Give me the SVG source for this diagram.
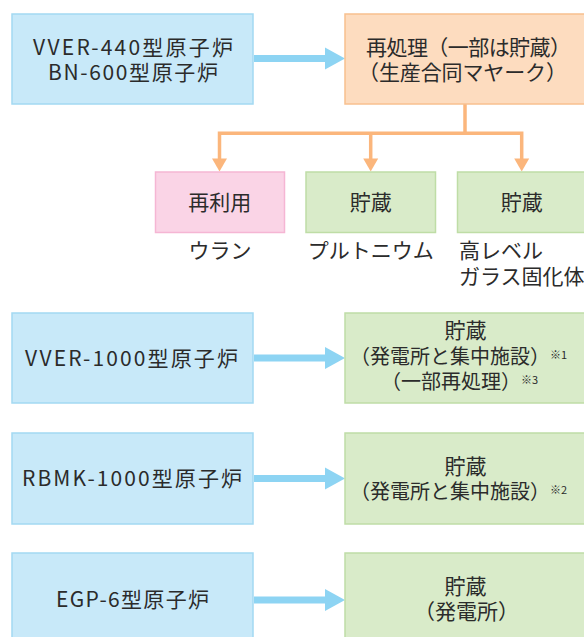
<svg xmlns="http://www.w3.org/2000/svg" width="584" height="637" viewBox="0 0 584 637">
<style>
text{font-family:"Noto Sans CJK JP","Noto Sans",sans-serif;fill:#2b2b2b;font-size:21px}
.m{text-anchor:middle}
.p{font-size:20px}
.sup{font-size:11px}
.blue{fill:#c8e9f9;stroke:#a3d9f2;stroke-width:1.5}
.orange{fill:#fddcbf;stroke:#f8c08f;stroke-width:1.5}
.pink{fill:#fad4e6;stroke:#f5b6d4;stroke-width:1.5}
.green{fill:#d9ebc9;stroke:#bfdda6;stroke-width:1.5}
.barrow{fill:#8dd4f3}
.oline{fill:none;stroke:#fbb67c;stroke-width:3.5}
.ohead{fill:#fbb67c}
</style>
<rect width="584" height="637" fill="#ffffff"/>
<g id="connectors">
  <path class="barrow" d="M254,55 H325 V47.5 L345,58.5 L325,69.5 V62 H254 Z"/>
  <path class="barrow" d="M254,354.5 H325 V347 L345,358 L325,369 V361.5 H254 Z"/>
  <path class="barrow" d="M254,475 H325 V467.5 L345,478.5 L325,489.5 V482 H254 Z"/>
  <path class="barrow" d="M254,596.5 H325 V589 L345,600 L325,611 V603.5 H254 Z"/>
  <path class="oline" d="M465,104 V133.3 M219.5,133.3 H521.7 M219.5,131.5 V159 M370.7,133.3 V159 M521.7,131.5 V159"/>
  <polygon class="ohead" points="212,158.5 227,158.5 219.5,171.5"/>
  <polygon class="ohead" points="363.2,158.5 378.2,158.5 370.7,171.5"/>
  <polygon class="ohead" points="514.2,158.5 529.2,158.5 521.7,171.5"/>
</g>
<g id="n-vver440">
  <rect class="blue" x="12" y="14" width="241" height="90"/>
  <text x="33" y="55" textLength="200" lengthAdjust="spacing">VVER-440型原子炉</text>
  <text x="48" y="80" textLength="170" lengthAdjust="spacing">BN-600型原子炉</text>
</g>
<g id="n-reprocess">
  <rect class="orange" x="345" y="14" width="250" height="90"/>
  <text x="366" y="55" textLength="205" lengthAdjust="spacing">再処理（一部は貯蔵）</text>
  <text x="358" y="80" textLength="209" lengthAdjust="spacing">（生産合同マヤーク）</text>
</g>
<g id="n-reuse">
  <rect class="pink" x="155.5" y="172" width="129" height="60.5"/>
  <text class="m" x="219.7" y="210">再利用</text>
  <text class="m" x="220" y="258">ウラン</text>
</g>
<g id="n-pu">
  <rect class="green" x="306" y="172" width="129.5" height="60.5"/>
  <text class="m" x="370.7" y="210">貯蔵</text>
  <text class="m" x="370.7" y="258">プルトニウム</text>
</g>
<g id="n-hlw">
  <rect class="green" x="457.5" y="172" width="140" height="60.5"/>
  <text class="m" x="521.7" y="210">貯蔵</text>
  <text x="459" y="258">高レベル</text>
  <text x="459" y="284">ガラス固化体</text>
</g>
<g id="n-vver1000">
  <rect class="blue" x="12" y="313" width="241" height="90"/>
  <text x="25" y="366" textLength="213" lengthAdjust="spacing">VVER-1000型原子炉</text>
</g>
<g id="n-store1">
  <rect class="green" x="345" y="313" width="250" height="90"/>
  <text class="m" x="465.5" y="338">貯蔵</text>
  <text class="p" x="350" y="364">（発電所と集中施設）<tspan class="sup" dy="-5">※1</tspan></text>
  <text class="p" x="381" y="389">（一部再処理）<tspan class="sup" dy="-5">※3</tspan></text>
</g>
<g id="n-rbmk">
  <rect class="blue" x="12" y="433" width="241" height="91"/>
  <text x="22" y="486" textLength="220" lengthAdjust="spacing">RBMK-1000型原子炉</text>
</g>
<g id="n-store2">
  <rect class="green" x="345" y="433" width="250" height="91"/>
  <text class="m" x="465.5" y="474">貯蔵</text>
  <text class="p" x="350" y="499">（発電所と集中施設）<tspan class="sup" dy="-5">※2</tspan></text>
</g>
<g id="n-egp">
  <rect class="blue" x="12" y="553" width="241" height="90"/>
  <text x="56" y="607" textLength="153" lengthAdjust="spacing">EGP-6型原子炉</text>
</g>
<g id="n-store3">
  <rect class="green" x="345" y="553" width="250" height="90"/>
  <text class="m" x="465.5" y="594">貯蔵</text>
  <text x="414" y="619">（発電所）</text>
</g>
</svg>
